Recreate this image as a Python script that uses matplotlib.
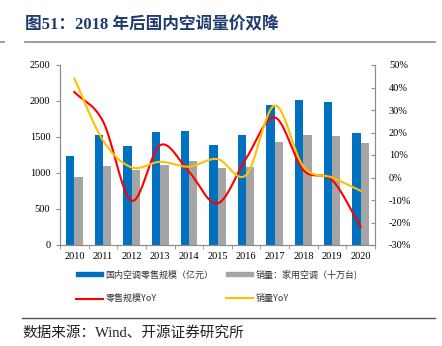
import numpy as np
import matplotlib.pyplot as plt
from matplotlib.lines import Line2D
from matplotlib.patches import Patch
from matplotlib.ticker import FuncFormatter

# data
years = ['2010', '2011', '2012', '2013', '2014', '2015', '2016', '2017', '2018', '2019', '2020']
retail = [1236, 1528, 1375, 1569, 1579, 1393, 1532, 1944, 2018, 1981, 1551]   # 亿元
sales = [949, 1093, 1042, 1116, 1167, 1065, 1088, 1426, 1523, 1509, 1417]     # 十万台
retail_yoy = [38.0, 25.0, -10.3, 14.4, 2.6, -11.5, 8.5, 26.7, 3.3, -1.1, -21.9]
sales_yoy = [44.0, 16.5, 4.5, 7.0, 4.8, 8.2, 1.1, 32.0, 4.8, 0.0, -5.9]

serif = ['Liberation Serif', 'Noto Sans CJK SC']
cjk = ['Noto Sans CJK SC', 'Liberation Serif']
plt.rcParams['font.family'] = serif
axis_grey = '#8C8C8C'


def smooth(x, y, n=30):
    # catmull-rom curve through the points, like excel's smoothed line
    x = np.asarray(x, float)
    y = np.asarray(y, float)
    px = np.concatenate([[2 * x[0] - x[1]], x, [2 * x[-1] - x[-2]]])
    py = np.concatenate([[2 * y[0] - y[1]], y, [2 * y[-1] - y[-2]]])
    xs, ys = [], []
    t = np.linspace(0, 1, n)
    for i in range(1, len(px) - 2):
        for p, out in ((px, xs), (py, ys)):
            p0, p1, p2, p3 = p[i - 1], p[i], p[i + 1], p[i + 2]
            out.extend(0.5 * (2 * p1 + (-p0 + p2) * t + (2 * p0 - 5 * p1 + 4 * p2 - p3) * t ** 2
                              + (-p0 + 3 * p1 - 3 * p2 + p3) * t ** 3))
    return np.array(xs), np.array(ys)


fig = plt.figure(figsize=(4.42, 3.46), dpi=100)
ax = fig.add_axes([60 / 442, 1 - 245 / 346, 315 / 442, 180 / 346])
ax2 = ax.twinx()

x = np.arange(len(years))
w = 0.29
ax.bar(x - w / 2, retail, width=w, color='#0070C0', zorder=2)
ax.bar(x + w / 2, sales, width=w, color='#A5A5A5', zorder=2)
ax.set_xlim(-0.5, len(years) - 0.5)
ax.set_ylim(0, 2500)
ax.set_yticks(range(0, 2501, 500))
ax.set_xticks(x)
ax.set_xticklabels(years)
ax.set_xticks(np.arange(-0.5, len(years)), minor=True)
ax.tick_params(axis='x', which='major', length=0, labelsize=7.5, pad=5)
ax.tick_params(axis='x', which='minor', length=3, color=axis_grey)
ax.tick_params(axis='y', length=3, color=axis_grey, labelsize=7.5, pad=4)

sx, sy = smooth(x, retail_yoy)
ax2.plot(sx, sy, color='#FF0000', lw=1.5, zorder=3)
sx, sy = smooth(x, sales_yoy)
ax2.plot(sx, sy, color='#FFC000', lw=1.5, zorder=3)
ax2.set_ylim(-30, 50)
ax2.set_yticks(range(-30, 51, 10))
ax2.yaxis.set_major_formatter(FuncFormatter(lambda v, p: f'{v:.0f}%'))
ax2.tick_params(axis='y', direction='in', length=3, color=axis_grey, labelsize=7.5, pad=10)

for a in (ax, ax2):
    a.spines['top'].set_visible(False)
    for s in ('left', 'right', 'bottom'):
        a.spines[s].set_color(axis_grey)

# legend fills by column, so order is blue, red | grey, yellow
handles = [Patch(color='#0070C0'), Line2D([], [], color='#FF0000', lw=1.5),
           Patch(color='#A5A5A5'), Line2D([], [], color='#FFC000', lw=1.5)]
labels = ['国内空调零售规模（亿元）', '零售规模YoY', '销量：家用空调（十万台)', '销量YoY']
fig.legend(handles, labels, loc='upper left', bbox_to_anchor=(72 / 442, 1 - 266 / 346),
           ncol=2, frameon=False, prop={'family': cjk, 'size': 6.5},
           handlelength=3.0, handleheight=0.3, handletextpad=0.3, columnspacing=1.4,
           labelspacing=1.6, labelcolor='#333333', borderaxespad=0)

# title, rules and source note
fig.text(25 / 442, 1 - 25 / 346, '图51：2018 年后国内空调量价双降', fontsize=12, fontweight='bold',
         color='#1F3A6E', va='center', ha='left', family=serif)
fig.add_artist(Line2D([25 / 442, 435 / 442], [1 - 42 / 346] * 2, color='#8C8C8C', lw=1.2))
fig.add_artist(Line2D([0, 4 / 442], [1 - 42 / 346] * 2, color='#8C8C8C', lw=1.2))
fig.add_artist(Line2D([22 / 442, 435 / 442], [1 - 318 / 346] * 2, color='#555555', lw=1.0))
fig.text(22 / 442, 1 - 333 / 346, '数据来源：Wind、开源证券研究所', fontsize=10.5, color='#222222',
         va='center', ha='left', family=serif)

fig.savefig('out.png', dpi=100)
